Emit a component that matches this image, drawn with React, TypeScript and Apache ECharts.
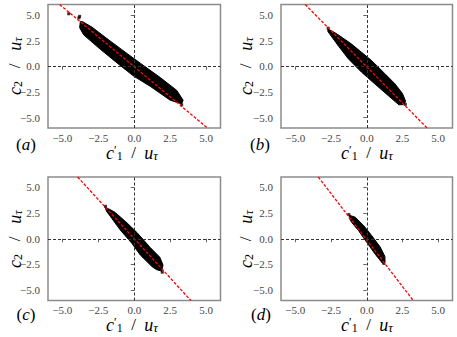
import React, { useEffect, useRef } from "react";
import * as echarts from "echarts";

// ---- data ----
const TICKS = [-5, -2.5, 0, 2.5, 5];
const AXIS_MIN = -6;
const AXIS_MAX = 6;
const PANEL_LABELS = ["a", "b", "c", "d"];

// outlines of the dense point clouds (c1', c2)
const cloudA = [
  [-3.75, 4.35], [-3.55, 4.3], [-2.94, 3.8], [-1.67, 2.45], [-0.51, 1.25], [0.42, 0.3],
  [1.81, -1.1], [2.96, -2.35], [3.4, -3.3], [3.3, -3.65], [2.5, -3.3], [1.11, -1.95],
  [-0.05, -0.95], [-1.09, 0.2], [-2.36, 1.65], [-3.52, 3.05], [-3.8, 3.75],
];
const cloudB = [
  [-2.72, 3.6], [-2.4, 3.4], [-1.99, 3.05], [-1.06, 2.15], [-0.36, 1.35], [0.34, 0.55],
  [1.27, -0.72], [1.97, -1.7], [2.5, -2.65], [2.72, -3.4], [2.6, -3.72], [2.25, -3.75],
  [1.5, -2.85], [0.57, -1.72], [-0.36, -0.58], [-1.29, 0.72], [-1.99, 1.98], [-2.55, 3.05],
  [-2.72, 3.38],
];
const cloudC = [
  [-2.02, 3.05], [-1.7, 2.85], [-1.32, 2.55], [-0.51, 1.55], [0.19, 0.6], [1.11, -0.85],
  [1.78, -1.8], [2.0, -2.55], [1.92, -3.15], [1.55, -3.0], [1.23, -2.7], [0.42, -1.58],
  [-0.16, -0.45], [-0.97, 0.85], [-1.55, 1.95], [-1.94, 2.7],
];
const cloudD = [
  [-1.22, 2.28], [-0.81, 2.1], [-0.23, 1.3], [0.35, 0.3], [0.94, -0.8], [1.27, -1.72],
  [1.28, -2.28], [1.1, -2.38], [0.59, -1.5], [0, -0.35], [-0.58, 0.8], [-1.05, 1.58],
  [-1.22, 1.98],
];
// isolated points outside the dense clouds
const strayA = [[-4.56, 5.1], [-3.8, 4.85], [-3.85, 4.7], [3.3, -3.75]];
const strayB = [[-2.7, 3.7], [2.7, -3.7]];
const strayC = [[-2.0, 3.15], [1.95, -3.25]];
const strayD = [[-1.25, 2.35], [1.2, -2.4]];
// red dashed fit lines (end points at the plot edges)
const fitA = [[-5.19, 6], [5.09, -6]];
const fitB = [[-4.31, 6], [4.22, -6]];
const fitC = [[-3.94, 6], [3.94, -6]];
const fitD = [[-3.39, 6], [3.25, -6]];

const CLOUDS = [cloudA, cloudB, cloudC, cloudD];
const STRAYS = [strayA, strayB, strayC, strayD];
const FITS = [fitA, fitB, fitC, fitD];

// ---- layout ----
const GRIDS = [
  { left: 48, top: 4.5, width: 172.5, height: 123.5 },
  { left: 281, top: 4.5, width: 171.5, height: 123.5 },
  { left: 48, top: 177, width: 172.5, height: 123.5 },
  { left: 281, top: 177, width: 171.5, height: 123.5 },
];
const SERIF = "Liberation Serif";
const TEXT = "#333";

const fmt = (v: number) => (v < 0 ? "\u2212" : "") + Math.abs(v).toFixed(1);

const mainTok = (italic: boolean, size: number) => ({
  fontFamily: SERIF,
  fontStyle: italic ? "italic" : "normal",
  fontSize: size,
  lineHeight: 18,
  verticalAlign: "top",
  color: TEXT,
});
const subTok = (italic: boolean, size: number, pad: number) => ({
  fontFamily: SERIF,
  fontStyle: italic ? "italic" : "normal",
  fontSize: size,
  lineHeight: 10,
  verticalAlign: "bottom",
  padding: [pad, 0, 0, 0],
  color: TEXT,
});

const axisRich = {
  c: mainTok(true, 18),
  u: mainTok(true, 18),
  n: mainTok(false, 17),
  p: { fontFamily: SERIF, fontSize: 12, lineHeight: 12, verticalAlign: "top", color: TEXT },
  s: subTok(false, 12, 10),
  t: subTok(true, 13, 10),
};

const X_LABEL_TEXT = "{c|c}{p|\u2032}{s|1}{n|  /  }{u|u}{t|\u03c4}";
const Y_LABEL_TEXT = "{c|c}{s|2}{n|   /   }{u|u}{t|\u03c4}";

export default function App() {
  const ref = useRef<HTMLDivElement>(null);
  useEffect(() => {
    if (!ref.current) return;
    const chart = echarts.init(ref.current, undefined, { renderer: "svg" });

    const mkAxis = (i: number, margin: number) => ({
      type: "value",
      gridIndex: i,
      min: AXIS_MIN,
      max: AXIS_MAX,
      axisLine: { show: false },
      splitLine: { show: false },
      axisTick: { show: true, length: 3.5, customValues: TICKS, lineStyle: { color: "#666", width: 1 } },
      axisLabel: {
        customValues: TICKS,
        formatter: fmt,
        margin,
        fontFamily: SERIF,
        fontSize: 11,
        lineHeight: 11,
        color: "#444",
      },
    });
    const xAxes = GRIDS.map((_, i) => mkAxis(i, 4));
    const yAxes = GRIDS.map((_, i) => mkAxis(i, 8));

    const series: any[] = [];
    GRIDS.forEach((_, i) => {
      series.push({
        type: "scatter",
        xAxisIndex: i,
        yAxisIndex: i,
        data: [],
        z: 1,
        silent: true,
        markLine: {
          silent: true,
          symbol: "none",
          label: { show: false },
          lineStyle: { color: "#333", width: 1, type: [3, 2] },
          data: [{ xAxis: 0 }, { yAxis: 0 }],
        },
      });
      const outline = CLOUDS[i];
      series.push({
        type: "custom",
        xAxisIndex: i,
        yAxisIndex: i,
        z: 2,
        silent: true,
        data: [[0, 0]],
        renderItem: (_p: any, api: any) => ({
          type: "polygon",
          shape: { points: outline.map((pt) => api.coord(pt)) },
          style: { fill: "#000", stroke: "#000", lineWidth: 1 },
        }),
      });
      series.push({
        type: "scatter",
        xAxisIndex: i,
        yAxisIndex: i,
        z: 2,
        symbol: "rect",
        symbolSize: 3,
        itemStyle: { color: "#000" },
        data: STRAYS[i],
      });
      series.push({
        type: "line",
        xAxisIndex: i,
        yAxisIndex: i,
        z: 3,
        symbol: "none",
        lineStyle: { color: "#ff0000", width: 1.3, type: [3, 1.6] },
        data: FITS[i],
      });
    });

    const xLabelPos = [[132, 152.5], [367, 152.5], [132, 324.5], [367, 324.5]];
    const yLabelPos = [[14.5, 66], [245.5, 66], [14.5, 239], [245.5, 239]];
    const panelPos = [[26, 144.5], [260, 144.5], [26, 314], [261, 314]];

    const graphics: any[] = [];
    GRIDS.forEach((_, i) => {
      graphics.push({
        type: "text",
        x: xLabelPos[i][0],
        y: xLabelPos[i][1],
        silent: true,
        style: { text: X_LABEL_TEXT, rich: axisRich, align: "center", verticalAlign: "middle" },
      });
      graphics.push({
        type: "text",
        x: yLabelPos[i][0],
        y: yLabelPos[i][1],
        rotation: Math.PI / 2,
        silent: true,
        style: { text: Y_LABEL_TEXT, rich: axisRich, align: "center", verticalAlign: "middle" },
      });
      graphics.push({
        type: "text",
        x: panelPos[i][0],
        y: panelPos[i][1],
        silent: true,
        style: {
          text: "{r|(}{i|" + PANEL_LABELS[i] + "}{r|)}",
          rich: {
            r: { fontFamily: SERIF, fontSize: 17, color: TEXT },
            i: { fontFamily: SERIF, fontSize: 17, fontStyle: "italic", color: TEXT },
          },
          align: "center",
          verticalAlign: "middle",
        },
      });
    });

    chart.setOption({
      animation: false,
      backgroundColor: "#fff",
      grid: GRIDS.map((g) => ({
        ...g,
        show: true,
        borderColor: "#8c8c8c",
        borderWidth: 1.5,
        backgroundColor: "transparent",
        containLabel: false,
      })),
      xAxis: xAxes,
      yAxis: yAxes,
      series,
      graphic: graphics,
    });
    return () => chart.dispose();
  }, []);
  return (
    <div
      ref={ref}
      style={{ position: "fixed", left: 0, top: 0, width: 457, height: 337 }}
    />
  );
}
